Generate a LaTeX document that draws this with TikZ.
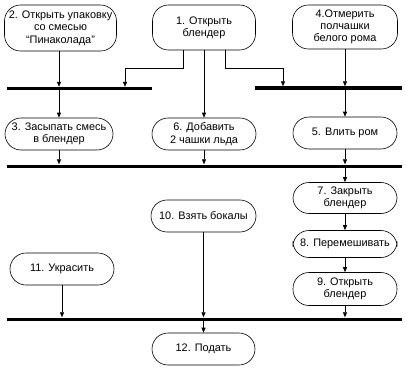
\documentclass[tikz,border=0pt]{standalone}
\usepackage{fontspec}
\setmainfont{Liberation Sans}
\usepackage{tikz}
\usetikzlibrary{arrows.meta,calc,positioning}

\begin{document}
\begin{tikzpicture}[x=1pt,y=-1pt,
    act/.style={draw,line width=0.6pt,rounded corners=16pt,align=center,inner sep=0.5pt,
      minimum width=103pt,minimum height=32pt,font=\fontsize{10.9}{12.3}\selectfont},
    bar/.style={fill=black,inner sep=0pt,minimum height=3pt},
    arr/.style={line width=0.6pt,-{Triangle[length=5pt,width=4pt]}}]
    \useasboundingbox (0,0) rectangle (407,369);
    \node[act,minimum width=112pt,minimum height=46pt] (n2) at (60.5,28) {2. Открыть упаковку\\со смесью\\“Пинаколада”};
    \node[act,minimum width=103pt,minimum height=45pt] (n1) at (204,27.5) {1. Открыть\\блендер};
    \node[act,minimum width=105pt,minimum height=44pt] (n4) at (345,27) {4.Отмерить\\полчашки\\белого рома};
    \node[bar,minimum width=145pt] (j1) at (79.5,88.5) {};
    \node[bar,minimum width=147pt] (j2) at (328.5,88) {};
    \node[act,minimum width=108pt] (n3) at (59,134) {3. Засыпать смесь\\в блендер};
    \node[act,minimum width=104pt] (n6) at (204,134) {6. Добавить\\2 чашки льда};
    \node[act,minimum width=104pt] (n5) at (345,133) {5. Влить ром};
    \node[bar,minimum width=395pt] (j3) at (204.5,166) {};
    \node[act,minimum width=104pt,minimum height=31pt] (n7) at (345,198) {7. Закрыть\\блендер};
    \node[act,minimum width=104pt,minimum height=27pt] (n8) at (345,244) {8. Перемешивать};
    \node[act,minimum width=104pt,minimum height=33pt] (n9) at (345,289) {9. Открыть\\блендер};
    \node[act,minimum width=105pt] (n10) at (203.5,216) {10. Взять бокалы};
    \node[act,minimum width=104pt] (n11) at (62,269) {11. Украсить};
    \node[bar,minimum width=395pt] (j4) at (204.5,319) {};
    \node[act,minimum width=103pt] (n12) at (203.5,349) {12. Подать};
    \draw[arr] (n3 |- n2.south) -- (n3 |- j1.north);
    \draw[arr] (n3 |- j1.south) -- (n3.north);
    \draw[arr] ([xshift=-21pt]n1.south) -- ++(0,18) -| ([xshift=45.5pt]j1.north);
    \draw[arr] ([xshift=21pt]n1.south) -- ++(0,18) -| ([xshift=-45.5pt]j2.north);
    \draw[arr] (n1.south) -- (n6.north);
    \draw[arr] (n4.south) -- (n4 |- j2.north);
    \draw[arr] (n5 |- j2.south) -- (n5.north);
    \draw[arr] (n3.south) -- (n3 |- j3.north);
    \draw[arr] (n6.south) -- (n6 |- j3.north);
    \draw[arr] (n5.south) -- (n5 |- j3.north);
    \draw[arr] (n7 |- j3.south) -- (n7.north);
    \draw[arr] (n7.south) -- (n8.north);
    \draw[arr] (n8.south) -- (n9.north);
    \draw[arr] (n11.south) -- (n11 |- j4.north);
    \draw[arr] (n10.south) -- (n10 |- j4.north);
    \draw[arr] (n9.south) -- (n9 |- j4.north);
    \draw[arr] (n12 |- j4.south) -- (n12.north);
  \end{tikzpicture}
\end{document}
